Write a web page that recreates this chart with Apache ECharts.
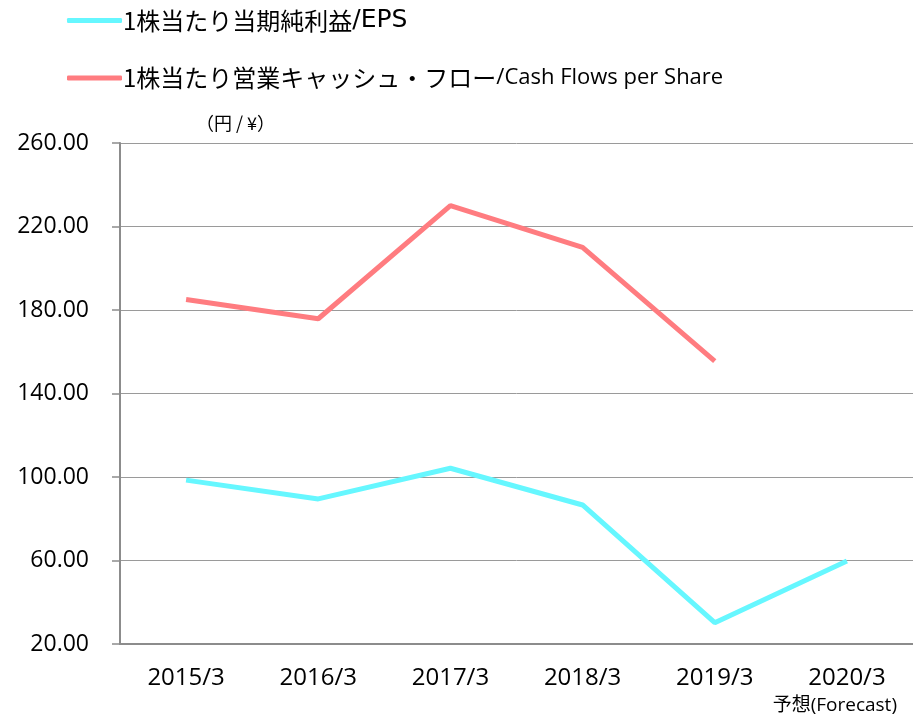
<!DOCTYPE html>
<html>
<head>
<meta charset="utf-8">
<script src="https://cdn.jsdelivr.net/npm/echarts@6/dist/echarts.min.js"></script>
<style>
  html, body { margin: 0; padding: 0; background: #fff; }
  #main { width: 913px; height: 715px; }
</style>
</head>
<body>
<div id="main"></div>
<script>
// データ
var years = ['2015/3', '2016/3', '2017/3', '2018/3', '2019/3', '2020/3'];
var epsName = '1株当たり当期純利益/EPS';
var cfName = '1株当たり営業キャッシュ・フロー/Cash Flows per Share';
var eps = [98.5, 89.5, 104.2, 86.6, 30.2, 59.8];
var cashFlow = [185.0, 175.8, 230.0, 210.0, 155.5, null];
var yTicks = [20, 60, 100, 140, 180, 220, 260];

var myChart = echarts.init(document.getElementById('main'));

myChart.setOption({
    animation: false,
    grid: { left: 120, top: 143, width: 800, height: 501 },
    legend: {
        orient: 'vertical',
        left: 62,
        top: 3,
        itemWidth: 55,
        itemHeight: 5,
        itemGap: 33,
        icon: 'roundRect',
        formatter: function (name) {
            var i = name.indexOf('/');
            var tail = name === epsName ? 'e' : 'c';
            return '{a|' + name.slice(0, i) + '}{' + tail + '|' + name.slice(i) + '}';
        },
        textStyle: {
            color: '#000',
            padding: [0, 0, 0, -4],
            rich: {
                a: { fontFamily: 'Noto Sans CJK JP', fontSize: 24, color: '#000', verticalAlign: 'middle' },
                e: { fontFamily: 'DejaVu Sans', fontSize: 25, letterSpacing: 2, color: '#000', verticalAlign: 'middle' },
                c: { fontFamily: 'Open Sans', fontSize: 22, color: '#000', verticalAlign: 'middle' }
            }
        },
        data: [epsName, cfName]
    },
    xAxis: {
        type: 'category',
        data: years,
        axisLine: { lineStyle: { color: '#8c8c8c', width: 2 } },
        axisTick: { length: 8, lineStyle: { color: '#8c8c8c', width: 1.5 } },
        axisLabel: { margin: 22, fontFamily: 'Open Sans', fontSize: 24, color: '#000' }
    },
    yAxis: {
        type: 'value',
        min: yTicks[0],
        max: yTicks[yTicks.length - 1],
        interval: yTicks[1] - yTicks[0],
        axisLine: { show: true, lineStyle: { color: '#8c8c8c', width: 2 } },
        axisTick: { show: true, inside: false, length: 8, lineStyle: { color: '#8c8c8c', width: 1.5 } },
        splitLine: { lineStyle: { color: '#9a9a9a', width: 1 } },
        axisLabel: {
            margin: 31,
            fontFamily: 'Open Sans',
            fontSize: 23,
            color: '#000',
            formatter: function (v) { return v.toFixed(2); }
        }
    },
    graphic: [
        { type: 'text', left: 196, top: 114, style: { text: '（円 / ¥）', font: '18px "Noto Sans CJK JP"', fill: '#000' } },
        { type: 'text', right: 16, top: 696, style: { text: '予想(Forecast)', font: '19px "Open Sans", "Noto Sans CJK JP"', fill: '#000' } }
    ],
    series: [
        {
            name: epsName,
            type: 'line',
            data: eps,
            symbol: 'none',
            color: '#66f7ff',
            lineStyle: { width: 5, color: '#66f7ff' }
        },
        {
            name: cfName,
            type: 'line',
            data: cashFlow,
            symbol: 'none',
            color: '#ff7c80',
            lineStyle: { width: 5, color: '#ff7c80' }
        }
    ]
});
</script>
</body>
</html>
